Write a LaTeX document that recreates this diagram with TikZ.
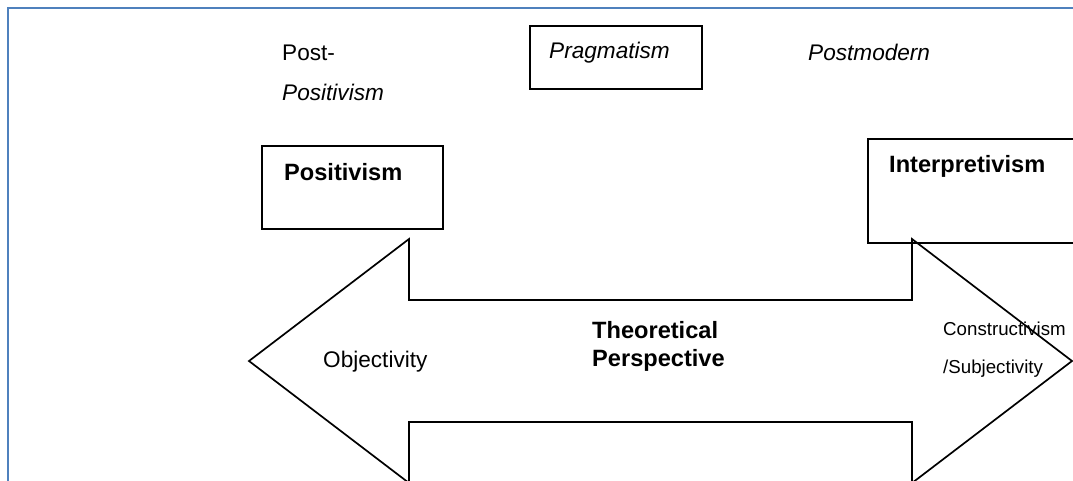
\documentclass[tikz,border=0pt]{standalone}
\usepackage{fontspec}
\setmainfont{Liberation Sans}
\definecolor{framecol}{RGB}{79,129,189}
\begin{document}
\begin{tikzpicture}[x=1pt,y=-1pt,
  frameline/.style={draw=framecol,line width=2pt},
  outline/.style={draw=black,line width=1.7pt,line join=miter},
  lbl/.style={anchor=base west,inner sep=0pt,font=\fontsize{22.6}{26}\selectfont},
  lblit/.style={lbl,font=\fontsize{22.6}{26}\selectfont\itshape},
  lblbf/.style={lbl,font=\fontsize{23.6}{28}\selectfont\bfseries},
  lblsm/.style={lbl,font=\fontsize{18.7}{22}\selectfont}]
\useasboundingbox (0,0) rectangle (1073,480);
\clip (0,0) rectangle (1073,480);
% page frame (top and left edges)
\draw[frameline] (8,482) -- (8,8) -- (1075,8);
% double-headed block arrow
\draw[outline] (249,361) -- (409,239) -- (409,300) -- (912,300) -- (912,239)
  -- (1072,361) -- (912,483) -- (912,422) -- (409,422) -- (409,483) -- cycle;
% boxes
\draw[outline] (262,146) rectangle (443,229);
\draw[outline] (868,139) rectangle (1085,243);
\draw[outline] (530,26) rectangle (702,89);
% labels
\node[lbl] (post) at (282,60) {Post-};
\node[lblit] (postpos) at (282,100) {Positivism};
\node[lblit] (prag) at (549,58) {Pragmatism};
\node[lblit] (postmod) at (808,60) {Postmodern};
\node[lblbf] (pos) at (284,180) {Positivism};
\node[lblbf] (interp) at (889,172) {Interpretivism};
\node[lblbf] (theo) at (592,338) {Theoretical};
\node[lblbf] (persp) at (592,366) {Perspective};
\node[lbl] (obj) at (323,367) {Objectivity};
\node[lblsm] (constr) at (943,335) {Constructivism};
\node[lblsm] (subj) at (943,373) {/Subjectivity};
\end{tikzpicture}
\end{document}
